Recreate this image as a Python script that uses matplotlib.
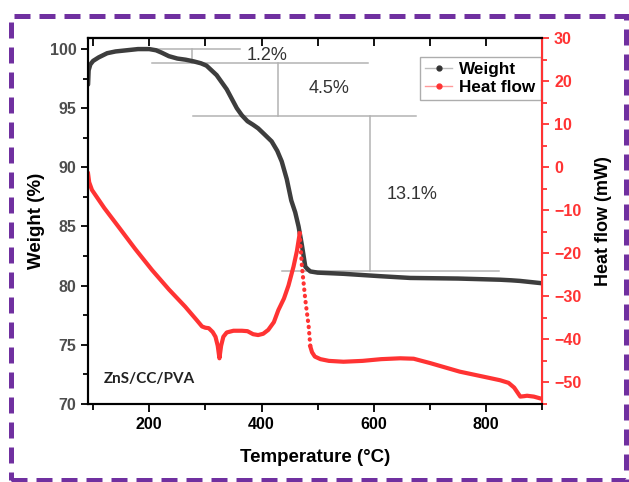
import numpy as np
import matplotlib
matplotlib.use("Agg")
import matplotlib.pyplot as plt
from matplotlib.lines import Line2D
from matplotlib.patches import Rectangle
from matplotlib.ticker import MultipleLocator, NullFormatter

plt.rcParams['font.family'] = ['Liberation Sans', 'DejaVu Sans']

# TGA weight curve (temperature in C, weight in %)
temp_w = [91, 92, 95, 100, 110, 125, 140, 160, 180, 200, 212, 222, 235, 250, 265, 280, 292,
          302, 311, 320, 329, 338, 347, 356, 365, 375, 385, 394, 405, 418, 428, 436, 445,
          453, 460, 466, 472, 478, 482, 487, 500, 546, 611, 665, 750, 825, 845, 860, 880, 900]
weight = [97.0, 98.2, 98.7, 99.0, 99.3, 99.65, 99.8, 99.9, 100.0, 100.0, 99.9, 99.7, 99.4, 99.2, 99.1, 98.95, 98.8,
          98.6, 98.2, 97.8, 97.2, 96.6, 95.8, 95.0, 94.4, 93.9, 93.6, 93.3, 92.8, 92.2, 91.4, 90.5, 89.0,
          87.2, 86.2, 85.0, 83.4, 81.6, 81.4, 81.2, 81.1, 81.0, 80.8, 80.65, 80.6, 80.5, 80.45, 80.4, 80.3, 80.2]

# DSC heat flow curve (temperature in C, heat flow in mW)
temp_h = [91, 93, 98, 120, 145, 175, 205, 235, 264, 285, 294, 300, 306, 313, 318, 322, 325, 328, 332,
          338, 350, 365, 375, 385, 394, 403, 412, 422, 430, 440, 448, 457, 463, 468,
          472, 478, 484, 487,
          490, 495, 505, 520, 546, 580, 613, 647, 671, 700, 753, 800, 825, 840, 850, 861, 868, 873,
          885, 896, 900]
heat = [-1.5, -3.5, -5.3, -9.5, -13.8, -19.0, -23.9, -28.4, -32.4, -35.6, -37.0, -37.3, -37.4, -38.3, -39.4,
        -41.5, -44.4, -41.5, -39.4,
        -38.4, -38.0, -38.0, -38.1, -38.8, -39.0, -38.7, -37.8, -36.0, -33.2, -30.5, -27.5, -23.1, -19.5, -15.4,
        -23.1, -30.8, -37.0, -41.7,
        -43.0, -44.0, -44.6, -45.0, -45.2, -45.0, -44.6, -44.4, -44.5, -45.5, -47.5, -48.8, -49.5, -50.1,
        -51.2, -53.3, -53.2, -53.1, -53.3, -53.7, -53.8]
drop_start = temp_h.index(468)   # sparse (dotted) part after the exothermic peak
drop_end = temp_h.index(487)

# mass-loss steps: (x0, x1, y) guide lines, (x, y0, y1) brackets, labels
hlines = [(198, 362, 100.0), (205, 590, 98.8), (278, 676, 94.3), (437, 823, 81.2)]
vlines = [(277, 100.0, 98.8), (430, 98.8, 94.3), (593, 94.3, 81.2)]
step_labels = ["1.2%", "4.5%", "13.1%"]
label_pos = [(410, 99.45), (520, 96.7), (668, 87.7)]

fig = plt.figure(figsize=(6.29, 4.82), dpi=100)
ax = fig.add_axes([0.140, 0.162, 0.722, 0.759])
ax2 = ax.twinx()

gray = '#b3b3b3'
for x0, x1, y in hlines:
    ax.plot([x0, x1], [y, y], color=gray, lw=1.1, zorder=1)
for x, y0, y1 in vlines:
    ax.plot([x, x], [y0, y1], color=gray, lw=1.1, zorder=1)
for txt, (x, y) in zip(step_labels, label_pos):
    ax.text(x, y, txt, ha='center', va='center', fontsize=13, color='#333333')

ax.plot(temp_w, weight, color='#3d3d3d', lw=3.2, solid_capstyle='round', solid_joinstyle='round', zorder=3)

red = '#ff3333'
ax2.plot(temp_h[:drop_start + 1], heat[:drop_start + 1], color=red, lw=3.0, solid_joinstyle='round')
ax2.plot(temp_h[drop_start:drop_end + 1], heat[drop_start:drop_end + 1], color=red, lw=3.0,
         linestyle=(0, (0.1, 1.4)), dash_capstyle='round')
ax2.plot(temp_h[drop_end:], heat[drop_end:], color=red, lw=3.0, solid_joinstyle='round')

ax.set_xlim(91, 900)
ax.set_ylim(70, 100.93)
ax2.set_ylim(-55, 30)

ax.xaxis.set_major_locator(MultipleLocator(200))
ax.xaxis.set_minor_locator(MultipleLocator(100))
ax.yaxis.set_major_locator(MultipleLocator(5))
ax.yaxis.set_minor_locator(MultipleLocator(2.5))
ax2.yaxis.set_major_locator(MultipleLocator(10))
ax2.yaxis.set_minor_locator(MultipleLocator(5))

ax.tick_params(axis='x', which='both', direction='out', labelsize=11.5, width=1.3, colors='black')
ax.tick_params(axis='x', which='major', length=6)
ax.tick_params(axis='x', which='minor', length=4)
ax.tick_params(axis='y', which='both', direction='out', labelsize=11.5, width=1.3, labelcolor='#4d4d4d')
ax.tick_params(axis='y', which='major', length=5)
ax.tick_params(axis='y', which='minor', length=3.5)
ax2.tick_params(axis='y', which='both', direction='out', colors=red, labelsize=11.5, width=1.3)
ax2.tick_params(axis='y', which='major', length=5)
ax2.tick_params(axis='y', which='minor', length=3.5)

# top ticks point inward, no labels
top = ax.secondary_xaxis('top')
top.xaxis.set_major_locator(MultipleLocator(200))
top.xaxis.set_minor_locator(MultipleLocator(100))
top.xaxis.set_major_formatter(NullFormatter())
top.tick_params(axis='x', which='both', direction='in', length=6, width=1.3)
top.spines['top'].set_linewidth(1.5)

for lab in ax.get_xticklabels() + ax.get_yticklabels() + ax2.get_yticklabels():
    lab.set_fontweight('bold')

for s in ['left', 'bottom', 'top']:
    ax.spines[s].set_linewidth(1.5)
    ax2.spines[s].set_linewidth(1.5)
ax2.spines['right'].set_color(red)
ax2.spines['right'].set_linewidth(1.5)

ax.set_xlabel('Temperature (°C)', fontsize=13.5, fontweight='bold', labelpad=12)
ax.set_ylabel('Weight (%)', fontsize=13.5, fontweight='bold', labelpad=3)
ax2.set_ylabel('Heat flow (mW)', fontsize=13, fontweight='bold', labelpad=10, color='black')

ax.text(0.035, 0.068, 'ZnS/CC/PVA', transform=ax.transAxes, fontsize=11, fontweight='bold',
        family=['Lato', 'DejaVu Sans'], color='#222222', va='center')

handles = [
    Line2D([], [], color='#bdbdbd', lw=1, marker='o', markersize=3.5,
           markerfacecolor='#333333', markeredgecolor='#333333'),
    Line2D([], [], color='#ff9999', lw=1, marker='o', markersize=3.5,
           markerfacecolor=red, markeredgecolor=red),
]
leg = ax.legend(handles, ['Weight', 'Heat flow'], loc='upper left', bbox_to_anchor=(0.731, 0.948),
                prop={'weight': 'bold', 'size': 12.3}, frameon=True, fancybox=False,
                handlelength=1.6, handletextpad=0.4, borderpad=0.3, labelspacing=0.15,
                borderaxespad=0)
leg.get_frame().set_edgecolor('#999999')
leg.get_frame().set_linewidth(1.0)
leg.set_zorder(5)

# purple dashed frame around the figure
fig.add_artist(Rectangle((0.0175, 0.004), 0.9775, 0.963, transform=fig.transFigure, fill=False,
                         edgecolor='#7030a0', lw=3.6, linestyle=(0, (3.2, 1.8)), clip_on=False))

fig.savefig('out.png', dpi=100)
